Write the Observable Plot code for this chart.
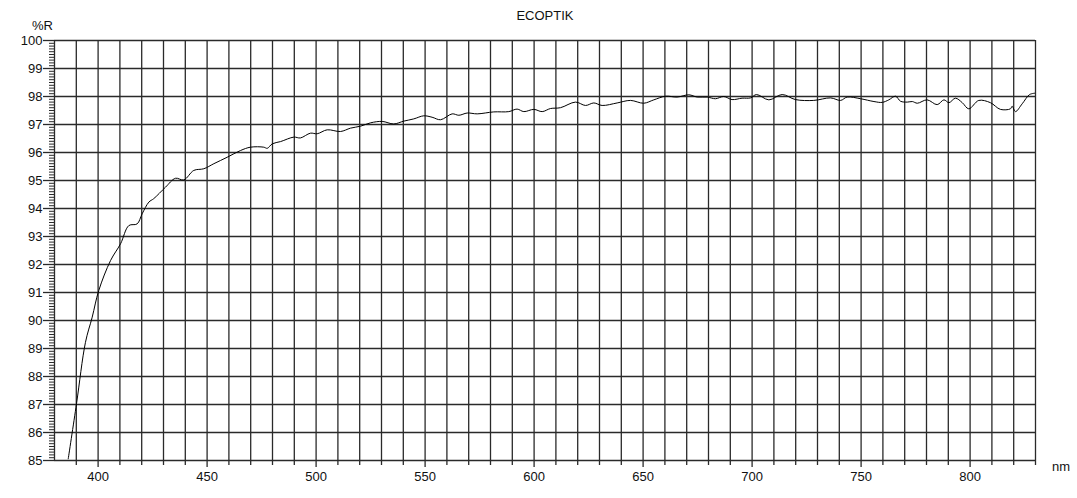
<!DOCTYPE html>
<html>
<head>
<meta charset="utf-8">
<script src="https://cdn.jsdelivr.net/npm/d3@7"></script>
<script src="https://cdn.jsdelivr.net/npm/@observablehq/plot@0.6"></script>
<style>
  html, body { margin: 0; padding: 0; background: #fff; }
  svg text { font-family: "Liberation Sans", Arial, sans-serif; }
</style>
</head>
<body>
<div id="chart"></div>
<script>
const title = "ECOPTIK";
const yUnit = "%R";
const xUnit = "nm";

const wavelength = [
  386.3, 390.1, 394.2, 397.3, 400.3, 405.7, 410.3, 414.1, 417.9, 420.2,
  423.3, 425.5, 430.9, 435.5, 439.3, 443.9, 448.5, 453.1, 459.2, 465.3,
  469.9, 476.0, 477.6, 479.9, 483.7, 489.8, 492.8, 497.4, 500.5, 505.1,
  511.2, 515.8, 520.4, 525.0, 530.3, 535.6, 540.2, 544.8, 549.4, 553.2,
  557.1, 562.4, 565.5, 569.3, 573.9, 581.5, 588.4, 592.2, 595.3, 599.9,
  603.7, 607.5, 612.1, 619.0, 623.6, 627.4, 631.2, 638.1, 644.2, 650.3,
  654.9, 660.3, 665.6, 671.0, 674.8, 679.4, 683.2, 687.0, 690.8, 695.4,
  699.3, 702.0, 707.7, 713.8, 719.9, 728.3, 736.0, 740.6, 743.6, 749.8,
  755.9, 759.7, 762.7, 765.8, 768.1, 771.2, 773.5, 775.8, 780.3, 784.9,
  788.0, 790.3, 793.3, 796.4, 799.4, 804.0, 809.3, 813.9, 818.5, 819.3,
  820.8, 823.9, 827.3, 830.0
];
const reflectance = [
  85.06, 87.03, 89.22, 90.12, 91.07, 92.14, 92.74, 93.39, 93.45, 93.81,
  94.23, 94.35, 94.76, 95.08, 95.02, 95.36, 95.42, 95.60, 95.83, 96.07,
  96.19, 96.19, 96.15, 96.31, 96.39, 96.55, 96.52, 96.69, 96.67, 96.81,
  96.75, 96.87, 96.94, 97.06, 97.11, 97.02, 97.12, 97.20, 97.31, 97.26,
  97.17, 97.38, 97.33, 97.41, 97.38, 97.45, 97.46, 97.55, 97.46, 97.54,
  97.46, 97.57, 97.60, 97.80, 97.68, 97.77, 97.68, 97.77, 97.86, 97.76,
  97.88, 98.01, 97.98, 98.06, 97.98, 97.98, 97.92, 98.00, 97.89, 97.94,
  97.95, 98.07, 97.88, 98.07, 97.89, 97.86, 97.95, 97.86, 97.98, 97.92,
  97.82, 97.79, 97.88, 98.01, 97.83, 97.80, 97.82, 97.76, 97.88, 97.71,
  97.88, 97.78, 97.94, 97.78, 97.56, 97.86, 97.78, 97.54, 97.56, 97.65,
  97.46, 97.74, 98.07, 98.12
];

const xDomain = [380, 830];
const yDomain = [85, 100];
const xGrid = d3.range(390, 831, 10);
const xLabels = [400, 450, 500, 550, 600, 650, 700, 750, 800];
const yGrid = d3.range(85, 101, 1);
const yMinor = d3.range(850, 1000, 1).filter(v => v % 10 !== 0).map(v => v / 10);

const data = wavelength.map((w, i) => ({w, r: reflectance[i]}));
const gridColor = "#2a2a2a";

const plot = Plot.plot({
  width: 1077,
  height: 498,
  marginTop: 40,
  marginLeft: 54,
  marginRight: 42,
  marginBottom: 38,
  style: {fontFamily: "Liberation Sans, Arial, sans-serif", fontSize: "13px", color: "#111", background: "#fff"},
  x: {domain: xDomain, label: null},
  y: {domain: yDomain, label: null},
  marks: [
    Plot.ruleX(xGrid, {stroke: gridColor, strokeWidth: 1.3}),
    Plot.ruleY(yGrid, {stroke: gridColor, strokeWidth: 1.3}),
    Plot.ruleX([380], {stroke: gridColor, strokeWidth: 1.3}),
    Plot.axisX(xGrid.filter(v => v % 50 !== 0), {tickSize: 5, tickFormat: () => "", stroke: gridColor, strokeWidth: 1.3}),
    Plot.axisX(xLabels, {tickSize: 7, tickPadding: 4, tickFormat: d => d, stroke: gridColor, strokeWidth: 1.3, fill: "#111"}),
    Plot.axisY(yMinor, {tickSize: 5, tickFormat: () => "", stroke: gridColor, strokeWidth: 1}),
    Plot.axisY(yGrid, {tickSize: 11, tickPadding: 1, tickFormat: d => d, stroke: gridColor, strokeWidth: 1.3, fill: "#111"}),
    Plot.line(data, {x: "w", y: "r", stroke: "#000", strokeWidth: 1, curve: "catmull-rom", clip: true})
  ]
});

const svg = d3.select(plot);
svg.append("text").attr("x", 545).attr("y", 20).attr("text-anchor", "middle")
  .attr("font-size", 13).attr("fill", "#111").text(title);
svg.append("text").attr("x", 53).attr("y", 30).attr("text-anchor", "end")
  .attr("font-size", 13).attr("fill", "#111").text(yUnit);
svg.append("text").attr("x", 1052).attr("y", 471).attr("text-anchor", "start")
  .attr("font-size", 13).attr("fill", "#111").text(xUnit);

document.getElementById("chart").append(plot);
</script>
</body>
</html>
